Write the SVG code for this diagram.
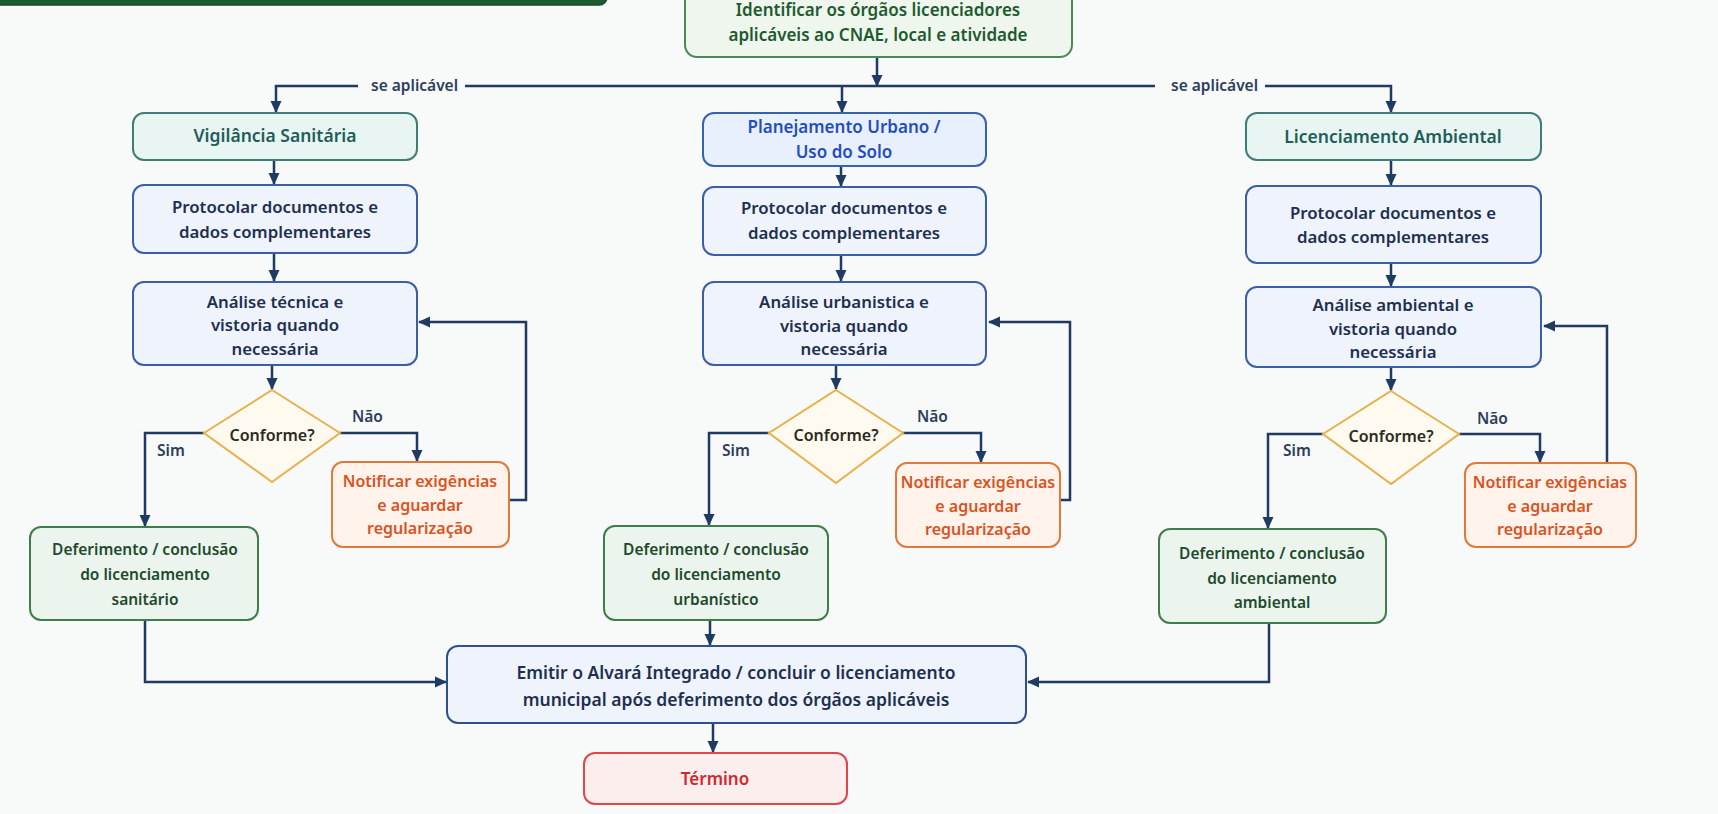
<svg xmlns="http://www.w3.org/2000/svg" width="1718" height="814" viewBox="0 0 1718 814">
<defs>
<marker id="ah" markerUnits="userSpaceOnUse" markerWidth="12" markerHeight="12" refX="11" refY="6" orient="auto">
<path d="M0,0.5 L12,6 L0,11.5 z" fill="#1f3b63"/>
</marker>
<style>
text{font-family:"Noto Sans","Open Sans","DejaVu Sans",sans-serif;font-weight:600;text-anchor:middle;font-size:16px}
.c{fill:none;stroke:#1f3b63;stroke-width:2.5}
.ca{fill:none;stroke:#1f3b63;stroke-width:2.5;marker-end:url(#ah)}
.lbl{fill:#2c3e5a;font-size:15.5px;text-anchor:start}
.start rect{fill:#eef6ee;stroke:#4a8a57;stroke-width:2}
.start text{fill:#1e5a2e;font-size:17px}
.org rect{fill:#e9f5f3;stroke:#3d7f74;stroke-width:2}
.org text{fill:#1f5e5a;font-size:17.5px}
.urb rect{fill:#e9f0fd;stroke:#3563b0;stroke-width:2}
.urb text{fill:#1f4fbf;font-size:17px}
.proc rect{fill:#eef3fc;stroke:#3a5fa8;stroke-width:2}
.proc text{fill:#1e2f4f;font-size:16.8px}
.dec polygon{fill:#fffaf0;stroke:#e8b04a;stroke-width:2}
.dec text{fill:#2d2a20}
.notif rect{fill:#fff3eb;stroke:#e07a3a;stroke-width:2}
.notif text{fill:#d9531e}
.ok rect{fill:#ebf5ed;stroke:#3f7d4d;stroke-width:2}
.ok text{fill:#1e4a2e;font-size:15.5px}
.end rect{fill:#fdeeee;stroke:#e0464a;stroke-width:2}
.end text{fill:#d0282d;font-size:17px}
</style>
</defs>
<rect x="0" y="0" width="1718" height="814" fill="#f8f9f9"/>
<rect x="-10" y="-30" width="617" height="35" rx="8" fill="#1d5c33" stroke="#174a29" stroke-width="1.5"/>

<g id="connectors">
<path class="ca" d="M877,57 V86"/>
<path class="ca" d="M358,86 H276 V112"/>
<path class="c" d="M465,86 H1155"/>
<path class="ca" d="M1265,86 H1391 V112"/>
<path class="ca" d="M842,86 V112"/>
<text class="lbl" x="371" y="91">se aplicável</text>
<text class="lbl" x="1171" y="91">se aplicável</text>
<!-- VS -->
<path class="ca" d="M274,160 V184"/>
<path class="ca" d="M274,253 V281"/>
<path class="ca" d="M272,365 V389"/>
<path class="ca" d="M204,433 H145 V526"/>
<path class="ca" d="M340,433 H417 V461"/>
<path class="ca" d="M509,500 H526 V322 H419"/>
<path class="ca" d="M145,620 V682 H446"/>
<text class="lbl" x="157" y="456">Sim</text>
<text class="lbl" x="352" y="422">Não</text>
<!-- Urb -->
<path class="ca" d="M841,166 V186"/>
<path class="ca" d="M841,255 V281"/>
<path class="ca" d="M836,365 V389"/>
<path class="ca" d="M769,433 H709 V525"/>
<path class="ca" d="M903,433 H981 V462"/>
<path class="ca" d="M1060,500 H1070 V322 H989"/>
<path class="ca" d="M710,620 V645"/>
<text class="lbl" x="722" y="456">Sim</text>
<text class="lbl" x="917" y="422">Não</text>
<!-- Amb -->
<path class="ca" d="M1391,160 V185"/>
<path class="ca" d="M1391,263 V286"/>
<path class="ca" d="M1391,367 V390"/>
<path class="ca" d="M1323,434 H1268 V528"/>
<path class="ca" d="M1459,434 H1540 V462"/>
<path class="ca" d="M1607,463 V326 H1544"/>
<path class="ca" d="M1269,623 V682 H1028"/>
<text class="lbl" x="1283" y="456">Sim</text>
<text class="lbl" x="1477" y="424">Não</text>
<!-- bottom -->
<path class="ca" d="M713,723 V752"/>
</g>

<g id="n-start" class="start">
<rect x="685" y="-12" width="387" height="69" rx="12"/>
<text x="878" y="16">Identificar os órgãos licenciadores</text>
<text x="878" y="41">aplicáveis ao CNAE, local e atividade</text>
</g>

<g id="n-vs" class="org">
<rect x="133" y="113" width="284" height="47" rx="11"/>
<text x="275" y="142">Vigilância Sanitária</text>
</g>
<g id="n-vs-prot" class="proc">
<rect x="133" y="185" width="284" height="68" rx="11"/>
<text x="275" y="213">Protocolar documentos e</text>
<text x="275" y="238">dados complementares</text>
</g>
<g id="n-vs-anal" class="proc">
<rect x="133" y="282" width="284" height="83" rx="11"/>
<text x="275" y="308">Análise técnica e</text>
<text x="275" y="331">vistoria quando</text>
<text x="275" y="355">necessária</text>
</g>
<g id="n-vs-dec" class="dec">
<polygon points="272,390 340,433 272,482 204,433"/>
<text x="272" y="441">Conforme?</text>
</g>
<g id="n-vs-notif" class="notif">
<rect x="332" y="462" width="177" height="85" rx="11"/>
<text x="420" y="487">Notificar exigências</text>
<text x="420" y="511">e aguardar</text>
<text x="420" y="534">regularização</text>
</g>
<g id="n-vs-ok" class="ok">
<rect x="30" y="527" width="228" height="93" rx="11"/>
<text x="145" y="555">Deferimento / conclusão</text>
<text x="145" y="580">do licenciamento</text>
<text x="145" y="605">sanitário</text>
</g>

<g id="n-urb" class="urb">
<rect x="703" y="113" width="283" height="53" rx="11"/>
<text x="844" y="133">Planejamento Urbano /</text>
<text x="844" y="158">Uso do Solo</text>
</g>
<g id="n-urb-prot" class="proc">
<rect x="703" y="187" width="283" height="68" rx="11"/>
<text x="844" y="214">Protocolar documentos e</text>
<text x="844" y="239">dados complementares</text>
</g>
<g id="n-urb-anal" class="proc">
<rect x="703" y="282" width="283" height="83" rx="11"/>
<text x="844" y="308">Análise urbanistica e</text>
<text x="844" y="332">vistoria quando</text>
<text x="844" y="355">necessária</text>
</g>
<g id="n-urb-dec" class="dec">
<polygon points="836,390 903,433 836,483 769,433"/>
<text x="836" y="441">Conforme?</text>
</g>
<g id="n-urb-notif" class="notif">
<rect x="896" y="463" width="164" height="84" rx="11"/>
<text x="978" y="488">Notificar exigências</text>
<text x="978" y="512">e aguardar</text>
<text x="978" y="535">regularização</text>
</g>
<g id="n-urb-ok" class="ok">
<rect x="604" y="526" width="224" height="94" rx="11"/>
<text x="716" y="555">Deferimento / conclusão</text>
<text x="716" y="580">do licenciamento</text>
<text x="716" y="605">urbanístico</text>
</g>

<g id="n-amb" class="org">
<rect x="1246" y="113" width="295" height="47" rx="11"/>
<text x="1393" y="143">Licenciamento Ambiental</text>
</g>
<g id="n-amb-prot" class="proc">
<rect x="1246" y="186" width="295" height="77" rx="11"/>
<text x="1393" y="219">Protocolar documentos e</text>
<text x="1393" y="243">dados complementares</text>
</g>
<g id="n-amb-anal" class="proc">
<rect x="1246" y="287" width="295" height="80" rx="11"/>
<text x="1393" y="311">Análise ambiental e</text>
<text x="1393" y="335">vistoria quando</text>
<text x="1393" y="358">necessária</text>
</g>
<g id="n-amb-dec" class="dec">
<polygon points="1391,391 1459,434 1391,484 1323,434"/>
<text x="1391" y="442">Conforme?</text>
</g>
<g id="n-amb-notif" class="notif">
<rect x="1465" y="463" width="171" height="84" rx="11"/>
<text x="1550" y="488">Notificar exigências</text>
<text x="1550" y="512">e aguardar</text>
<text x="1550" y="535">regularização</text>
</g>
<g id="n-amb-ok" class="ok">
<rect x="1159" y="529" width="227" height="94" rx="11"/>
<text x="1272" y="559">Deferimento / conclusão</text>
<text x="1272" y="584">do licenciamento</text>
<text x="1272" y="608">ambiental</text>
</g>

<g id="n-emitir" class="proc">
<rect x="447" y="646" width="579" height="77" rx="11" style="stroke:#2e5090"/>
<text x="736" y="679" style="font-size:17.5px">Emitir o Alvará Integrado / concluir o licenciamento</text>
<text x="736" y="706" style="font-size:17.5px">municipal após deferimento dos órgãos aplicáveis</text>
</g>
<g id="n-end" class="end">
<rect x="584" y="753" width="263" height="51" rx="11"/>
<text x="715" y="785">Término</text>
</g>
</svg>
